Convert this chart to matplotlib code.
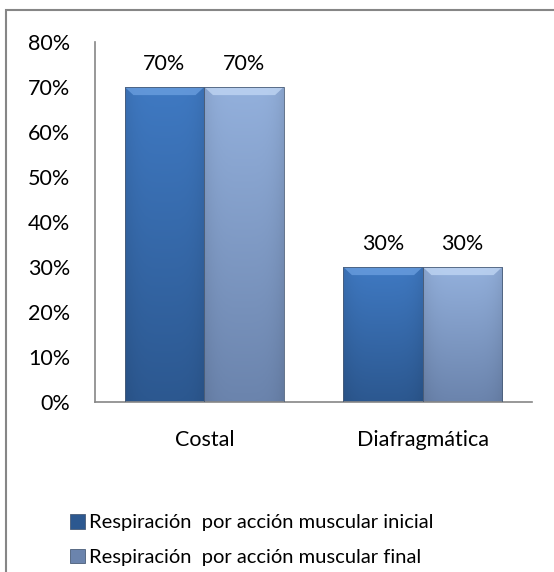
import matplotlib.pyplot as plt
import matplotlib.patches as mpatches
import numpy as np

plt.rcParams['font.family'] = ['Lato', 'DejaVu Sans']

categories = ['Costal', 'Diafragmática']
series_names = ['Respiración  por acción muscular inicial',
                'Respiración  por acción muscular final']
inicial = [70, 30]
final = [70, 30]

# top / bottom colours of the gradient for each series
colors = [('#3f79c2', '#2c5890'), ('#93b0dc', '#6b84ad')]
bevel_colors = ['#6fa3e3', '#c6dbf7']

fig = plt.figure(figsize=(5.54, 5.72), dpi=100)
ax = fig.add_axes([95 / 554, 1 - 402 / 572, (532 - 95) / 554, (402 - 42) / 572])

x = np.arange(len(categories))
width = 0.364
values = [inicial, final]
offsets = [-width / 2, width / 2]

def gradient_bar(rect, top, bottom, bevel):
    x0, y0 = rect.get_x(), rect.get_y()
    w, h = rect.get_width(), rect.get_height()
    c1 = np.array(plt.matplotlib.colors.to_rgb(top))
    c2 = np.array(plt.matplotlib.colors.to_rgb(bottom))
    t = np.linspace(0, 1, 100)[:, None]
    col = c1 * (1 - t) + c2 * t
    # slight darkening towards the sides
    s = np.linspace(-1, 1, 50)
    side = 1 - 0.08 * s ** 4
    img = col[:, None, :] * side[None, :, None]
    im = ax.imshow(img, extent=[x0, x0 + w, y0, y0 + h], origin='upper',
                   aspect='auto', zorder=2)
    im.set_clip_path(rect)
    # bevelled top edge
    bh = 1.8
    bw = 0.04
    top_y = y0 + h
    ax.add_patch(mpatches.Polygon([[x0, top_y], [x0 + w, top_y],
                                   [x0 + w - bw, top_y - bh], [x0 + bw, top_y - bh]],
                                  closed=True, facecolor=bevel, edgecolor='none',
                                  alpha=0.7, zorder=3))
    ax.add_patch(mpatches.Rectangle((x0, y0), w, h, fill=False,
                                    edgecolor='#4a5d78', linewidth=0.6, zorder=4))

for i in range(2):
    bars = ax.bar(x + offsets[i], values[i], width, color='none', edgecolor='none',
                  label=series_names[i], zorder=1)
    for b in bars:
        gradient_bar(b, colors[i][0], colors[i][1], bevel_colors[i])
    for xi, v in zip(x + offsets[i], values[i]):
        ax.annotate('%d%%' % v, (xi, v), xytext=(0, 9), textcoords='offset points',
                    ha='center', va='bottom', fontsize=15.5, color='black')

ax.set_xlim(-0.5, 1.5)
ax.set_ylim(0, 80)
ax.set_yticks(range(0, 81, 10))
ax.set_yticklabels(['%d%%' % v for v in range(0, 81, 10)])
ax.set_xticks(x)
ax.set_xticklabels(categories)
ax.tick_params(axis='both', length=0, labelsize=15.5)
ax.tick_params(axis='y', pad=18)
ax.tick_params(axis='x', pad=20)
for s in ['top', 'right']:
    ax.spines[s].set_visible(False)
for s in ['left', 'bottom']:
    ax.spines[s].set_color('#868686')
    ax.spines[s].set_linewidth(1.2)

handles = [mpatches.Patch(facecolor=colors[i][1], edgecolor='#4a5d78', linewidth=0.6)
           for i in range(2)]
fig.legend(handles, series_names, loc='upper left', bbox_to_anchor=(62 / 554, 1 - 506 / 572),
           frameon=False, fontsize=14.5, handlelength=0.75, handleheight=0.75,
           handletextpad=0.2, labelspacing=0.85, borderaxespad=0)

# outer border of the chart area
fig.patches.append(mpatches.Rectangle((6 / 554, -0.05), 1.1, 1 - 10 / 572 + 0.05,
                                      transform=fig.transFigure, fill=False,
                                      edgecolor='#868686', linewidth=1.5))

fig.savefig('out.png', dpi=100)
